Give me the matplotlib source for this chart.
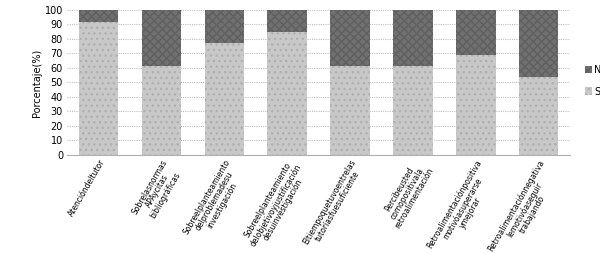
import matplotlib
matplotlib.use("Agg")
import matplotlib.pyplot as plt
from matplotlib.patches import Patch

categories = [
    "Atencióndeltutor",
    "Sobrelasnormas\nAPAycitas\nbibliográficas",
    "Sobreelplanteamiento\ndelproblemadesu\ninvestigación",
    "Sobreelplanteamiento\ndelobjetivoyjustificación\ndesuinvestigación",
    "Eltiempoquetuvoentrelas\ntutoríasfuesuficiente",
    "Percibeusted\ncomopositivala\nretroalimentación",
    "Retroalimentaciónpositiva\nmotivóasuperarse\nymejorar",
    "Retroalimentaciónnegativa\nlemotivóaseguir\ntrabajando",
]
si = [92, 61, 77, 85, 61, 61, 69, 54]
no = [100 - v for v in si]

fig = plt.figure(figsize=(6, 2.54), dpi=100)
ax = fig.add_axes([0.112, 0.39, 0.838, 0.571])

x = range(len(categories))
ax.bar(x, si, width=0.63, color="#c8c8c8", hatch="...", edgecolor="#b0b0b0",
       linewidth=0, zorder=2)
ax.bar(x, no, bottom=si, width=0.63, color="#707070", hatch="xxxx",
       edgecolor="#606060", linewidth=0, zorder=2)

ax.set_xlim(-0.5, 7.5)
ax.set_ylim(0, 100)
ax.set_yticks(range(0, 101, 10))
ax.tick_params(axis="y", labelsize=7, length=0, pad=3)
ax.tick_params(axis="x", length=0, pad=2)
ax.yaxis.grid(True, color="#c0c0c0", linestyle=(0, (1, 1)), linewidth=0.8, zorder=0)
ax.set_axisbelow(True)
for s in ["top", "right", "left"]:
    ax.spines[s].set_visible(False)
ax.spines["bottom"].set_color("#b0b0b0")
ax.set_ylabel("Porcentaje(%)", fontsize=7, labelpad=2)

ax.set_xticks(list(x))
ax.set_xticklabels(categories, rotation=60, ha="right", va="top",
                   rotation_mode="anchor", fontsize=5.5, multialignment="center",
                   linespacing=0.95)

handles = [Patch(facecolor="#707070", hatch="xxxx", edgecolor="#606060", linewidth=0),
           Patch(facecolor="#c8c8c8", hatch="...", edgecolor="#b0b0b0", linewidth=0)]
fig.legend(handles, ["No", "Sí"], loc="upper left", bbox_to_anchor=(0.968, 0.76),
           frameon=False, fontsize=7, handlelength=0.8, handleheight=0.8,
           handletextpad=0.2, labelspacing=1.2, borderaxespad=0)

fig.savefig("out.png", dpi=100)
